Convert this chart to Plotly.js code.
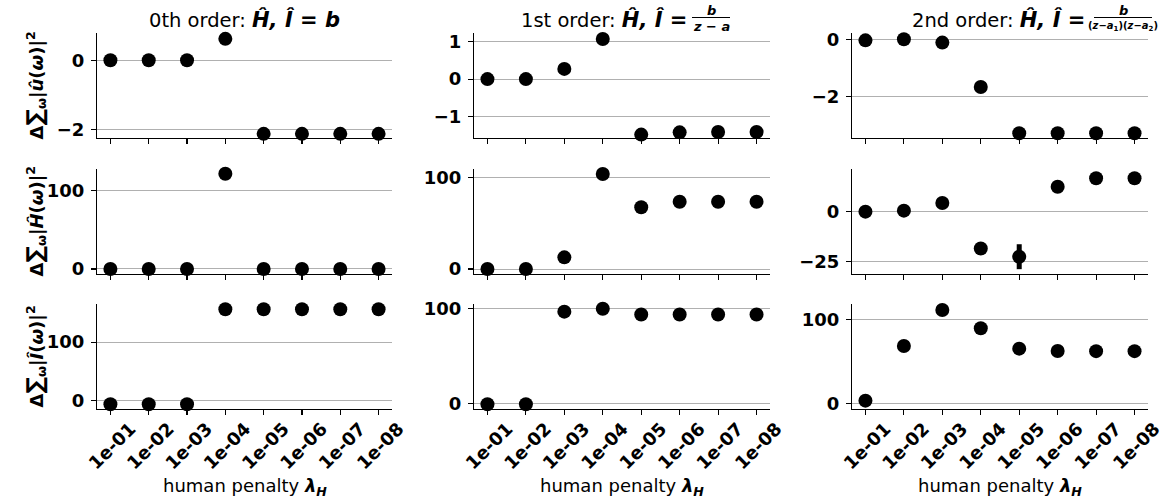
<!DOCTYPE html>
<html>
<head>
<meta charset="utf-8">
<script src="https://cdn.plot.ly/plotly-3.0.1.min.js"></script>
<style>html,body{margin:0;padding:0;background:#fff;}#chart{width:1166px;height:504px;}</style>
</head>
<body>
<div id="chart"></div>
<script>
// ---------------- data ----------------
const penalties = ['1e-01','1e-02','1e-03','1e-04','1e-05','1e-06','1e-07','1e-08'];

// row 1: Δ Σ |û(ω)|²
const u_order0 = [0, 0, 0, 0.62, -2.13, -2.13, -2.13, -2.13];
const u_order1 = [0, 0, 0.27, 1.06, -1.47, -1.41, -1.40, -1.40];
const u_order2 = [-0.02, 0.02, -0.10, -1.67, -3.30, -3.30, -3.30, -3.30];

// row 2: Δ Σ |Ĥ(ω)|²
const H_order0 = [0, 0, 0, 121, 0, 0, 0, 0];
const H_order1 = [0, 0, 12.7, 103.5, 67.3, 73.3, 73.3, 73.3];
const H_order2 = [0, 0.5, 4.3, -18.3, -22.4, 12.4, 16.6, 16.6];
const H_order2_err = [0, 0, 0, 0, 6.2, 0, 0, 0];

// row 3: Δ Σ |Î(ω)|²
const I_order0 = [-6, -6, -6, 156, 156, 156, 156, 156];
const I_order1 = [-0.5, -0.5, 96.5, 99.5, 93.5, 93.5, 93.5, 93.5];
const I_order2 = [3.2, 68.5, 111.5, 89.6, 65.3, 62.5, 62.3, 62.3];

// tick labels
const ticks_u0 = {vals: [-2, 0], text: ['\u22122', '0']};
const ticks_u1 = {vals: [-1, 0, 1], text: ['\u22121', '0', '1']};
const ticks_u2 = {vals: [-2, 0], text: ['\u22122', '0']};
const ticks_H0 = {vals: [0, 100], text: ['0', '100']};
const ticks_H1 = {vals: [0, 100], text: ['0', '100']};
const ticks_H2 = {vals: [-25, 0], text: ['\u221225', '0']};
const ticks_I  = {vals: [0, 100], text: ['0', '100']};

const titles = ['0th order: ', '1st order: ', '2nd order: '];
const SUM = '<span style="font-size:23px">∑</span><sub>ω</sub>';
const rowLabels = [
  '<b>Δ' + SUM + '|<i>û</i>(<i>ω</i>)|<sup>2</sup></b>',
  '<b>Δ' + SUM + '|<i>Ĥ</i>(<i>ω</i>)|<sup>2</sup></b>',
  '<b>Δ' + SUM + '|<i>Î</i>(<i>ω</i>)|<sup>2</sup></b>'
];
const xLabel = 'human penalty <b><i>λ<sub>H</sub></i></b>';

// ---------------- layout helpers ----------------
const W = 1166, Hh = 504;
const px = x => x / W;
const py = y => 1 - y / Hh;
const colX = [[97, 392], [474, 770], [852, 1148]];
const rowY = [[33, 138], [169, 274], [304, 409]];

const grid = [
  [u_order0, u_order1, u_order2],
  [H_order0, H_order1, H_order2],
  [I_order0, I_order1, I_order2]
];
const tickSets = [
  [ticks_u0, ticks_u1, ticks_u2],
  [ticks_H0, ticks_H1, ticks_H2],
  [ticks_I, ticks_I, ticks_I]
];
const yRanges = [
  [[-2.25, 0.79], [-1.56, 1.22], [-3.47, 0.24]],
  [[-6.4, 127], [-5.45, 109], [-31, 21.2]],
  [[-14, 165], [-5.5, 104.5], [-6.8, 118.6]]
];

const FONT = 'DejaVu Sans, Verdana, sans-serif';
const traces = [];
const layout = {
  width: W, height: Hh,
  margin: {l: 0, r: 0, t: 0, b: 0},
  paper_bgcolor: '#fff', plot_bgcolor: '#fff',
  showlegend: false,
  font: {family: FONT, color: '#000'},
  annotations: [], shapes: []
};

let k = 0;
for (let r = 0; r < 3; r++) {
  for (let c = 0; c < 3; c++) {
    k++;
    const xa = 'xaxis' + (k === 1 ? '' : k), ya = 'yaxis' + (k === 1 ? '' : k);
    const xr = 'x' + (k === 1 ? '' : k), yr = 'y' + (k === 1 ? '' : k);
    const tr = {
      type: 'scatter', mode: 'markers',
      x: penalties, y: grid[r][c], xaxis: xr, yaxis: yr,
      marker: {color: '#000', size: 14},
      cliponaxis: false, hoverinfo: 'x+y'
    };
    if (r === 1 && c === 2) {
      tr.error_y = {type: 'data', array: H_order2_err, visible: true, thickness: 5, width: 0, color: '#000'};
    }
    traces.push(tr);
    layout[xa] = {
      domain: [px(colX[c][0]), px(colX[c][1])],
      anchor: yr,
      type: 'category', categoryarray: penalties, categoryorder: 'array',
      range: [-0.35, 7.35],
      showgrid: false, zeroline: false,
      showline: true, linecolor: '#000', linewidth: 1.1,
      ticks: 'outside', ticklen: 5, tickwidth: 1.1, tickcolor: '#000',
      showticklabels: r === 2,
      tickangle: -45,
      ticklabelshift: 20,
      ticklabelstandoff: -4,
      tickfont: {family: FONT, size: 18, weight: 'bold', color: '#000'},
      fixedrange: true
    };
    layout[ya] = {
      domain: [py(rowY[r][1]), py(rowY[r][0])],
      anchor: xr,
      range: yRanges[r][c],
      tickmode: 'array', tickvals: tickSets[r][c].vals, ticktext: tickSets[r][c].text,
      showgrid: true, gridcolor: '#b0b0b0', gridwidth: 1,
      zeroline: false,
      showline: true, linecolor: '#000', linewidth: 1.1,
      ticks: 'outside', ticklen: 5, tickwidth: 1.1, tickcolor: '#000',
      ticklabelstandoff: 3,
      tickfont: {family: FONT, size: 18, weight: 'bold', color: '#000'},
      fixedrange: true
    };
  }
}

// row labels (y titles)
for (let r = 0; r < 3; r++) {
  layout.annotations.push({
    xref: 'paper', yref: 'paper', x: px(35), y: py((rowY[r][0] + rowY[r][1]) / 2),
    xanchor: 'center', yanchor: 'middle', textangle: -90, showarrow: false,
    text: rowLabels[r], font: {family: FONT, size: 18, color: '#000'}
  });
}
// x labels
for (let c = 0; c < 3; c++) {
  layout.annotations.push({
    xref: 'paper', yref: 'paper', x: px((colX[c][0] + colX[c][1]) / 2), y: py(487),
    xanchor: 'center', yanchor: 'middle', showarrow: false,
    text: xLabel, font: {family: FONT, size: 18, color: '#000'}
  });
}
// titles
const TF = {family: FONT, size: 19.5, color: '#000'};
const MATH = t => '<span style="font-size:21px"><b><i>' + t + '</i></b></span>';
layout.annotations.push({
  xref: 'paper', yref: 'paper', x: px(244), y: py(20), xanchor: 'center', yanchor: 'middle',
  showarrow: false, text: titles[0] + MATH('Ĥ, Î = b'), font: TF
});
layout.annotations.push({
  xref: 'paper', yref: 'paper', x: px(689), y: py(20), xanchor: 'right', yanchor: 'middle',
  showarrow: false, text: titles[1] + MATH('Ĥ, Î ='), font: TF
});
layout.annotations.push({
  xref: 'paper', yref: 'paper', x: px(1087), y: py(20), xanchor: 'right', yanchor: 'middle',
  showarrow: false, text: titles[2] + MATH('Ĥ, Î ='), font: TF
});
const fracs = [
  {cx: 711, x0: 692, x1: 730, size: 13, num: '<b><i>b</i></b>', den: '<b><i>z − a</i></b>'},
  {cx: 1123, x0: 1094, x1: 1152, size: 10, num: '<b><i>b</i></b>', den: '<b>(<i>z</i>−<i>a</i><sub>1</sub>)(<i>z</i>−<i>a</i><sub>2</sub>)</b>'}
];
fracs.forEach(f => {
  layout.annotations.push({xref: 'paper', yref: 'paper', x: px(f.cx), y: py(10), xanchor: 'center', yanchor: 'middle',
    showarrow: false, text: f.num, font: {family: FONT, size: 13, color: '#000'}});
  layout.annotations.push({xref: 'paper', yref: 'paper', x: px(f.cx), y: py(26), xanchor: 'center', yanchor: 'middle',
    showarrow: false, text: f.den, font: {family: FONT, size: f.size, color: '#000'}});
  layout.shapes.push({type: 'line', xref: 'paper', yref: 'paper', x0: px(f.x0), x1: px(f.x1), y0: py(17.5), y1: py(17.5),
    line: {color: '#000', width: 1}});
});

Plotly.newPlot('chart', traces, layout, {staticPlot: true, displayModeBar: false});
</script>
</body>
</html>
